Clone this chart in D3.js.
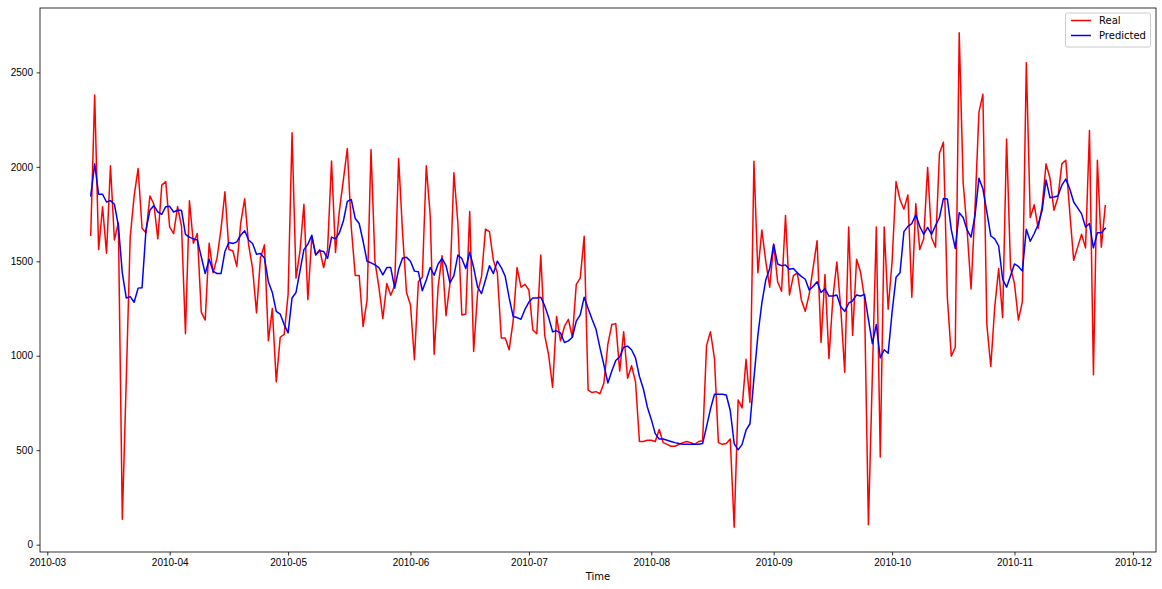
<!DOCTYPE html>
<html>
<head>
<meta charset="utf-8">
<script src="https://cdn.jsdelivr.net/npm/d3@7"></script>
<style>
  body { margin: 0; background: white; }
  svg { display: block; font-family: "DejaVu Sans", sans-serif; }
</style>
</head>
<body>
<div id="chart"></div>
<script>
// daily values, first day 2010-03-12
const startDay = "2010-03-12";

const real = [
  1638, 2381, 1562, 1789, 1543, 2006, 1613, 1704, 134, 871,
  1628, 1846, 1991, 1675, 1651, 1846, 1802, 1619, 1903, 1922,
  1681, 1647, 1790, 1685, 1117, 1821, 1596, 1647, 1231, 1189,
  1596, 1439, 1518, 1670, 1868, 1562, 1556, 1473, 1704, 1831,
  1587, 1462, 1227, 1518, 1587, 1079, 1250, 862, 1098, 1113,
  1325, 2181, 1411, 1552, 1802, 1297, 1628, 1534, 1562, 1467,
  1562, 2031, 1547, 1770, 1931, 2097, 1680, 1425, 1425, 1155,
  1295, 2092, 1500, 1363, 1197, 1382, 1320, 1373, 2044, 1650,
  1335, 1269, 979, 1392, 1415, 2006, 1742, 1008, 1363, 1530,
  1212, 1382, 1969, 1704, 1216, 1221, 1764, 1023, 1335, 1420,
  1670, 1657, 1505, 1439, 1094, 1094, 1032, 1183, 1467, 1363,
  1378, 1348, 1136, 1117, 1533, 1108, 1004, 833, 1208, 1079,
  1155, 1193, 1098, 1378, 1411, 1632, 818, 805, 810, 799,
  856, 1061, 1165, 1170, 919, 1127, 881, 947, 862, 546,
  546, 553, 553, 546, 610, 540, 531, 521, 521, 531,
  540, 546, 540, 531, 546, 550, 1055, 1127, 985, 540,
  531, 535, 559, 92, 766, 724, 981, 753, 2029, 1439,
  1666, 1500, 1363, 1590, 1392, 1341, 1742, 1322, 1424, 1439,
  1297, 1235, 1325, 1467, 1609, 1070, 1430, 985, 1306, 1496,
  1250, 913, 1681, 1108, 1511, 1443, 1306, 105, 900, 1681,
  464, 1681, 1246, 1500, 1922, 1827, 1776, 1851, 1310, 1804,
  1562, 1619, 1997, 1625, 1575, 2073, 2130, 1306, 998, 1045,
  2710, 1916, 1666, 1354, 1779, 2290, 2384, 1165, 943, 1259,
  1462, 1202, 2148, 1467, 1382, 1189, 1287, 2551, 1732, 1799,
  1675, 1790, 2016, 1940, 1770, 1836, 2016, 2035, 1761, 1505,
  1575, 1643, 1571, 2192, 899, 2035, 1575, 1795
];

const predicted = [
  1846, 2016, 1855, 1855, 1814, 1821, 1802, 1689, 1439, 1306,
  1313, 1283, 1358, 1360, 1666, 1770, 1795, 1761, 1749, 1789,
  1791, 1761, 1770, 1770, 1643, 1628, 1619, 1613, 1524, 1435,
  1511, 1448, 1435, 1435, 1552, 1600, 1594, 1603, 1638, 1662,
  1613, 1594, 1537, 1541, 1518, 1392, 1335, 1235, 1221, 1165,
  1121, 1306, 1335, 1448, 1562, 1590, 1638, 1534, 1556, 1552,
  1515, 1628, 1619, 1651, 1713, 1817, 1827, 1727, 1700, 1606,
  1500, 1492, 1481, 1467, 1428, 1467, 1467, 1358, 1458, 1518,
  1522, 1500, 1448, 1445, 1344, 1401, 1467, 1426, 1486, 1515,
  1477, 1386, 1424, 1533, 1515, 1462, 1548, 1467, 1363, 1329,
  1401, 1477, 1435, 1501, 1467, 1420, 1306, 1208, 1202, 1193,
  1246, 1284, 1306, 1306, 1310, 1265, 1202, 1127, 1132, 1121,
  1070, 1079, 1098, 1183, 1216, 1310, 1250, 1193, 1140, 1042,
  951, 856, 919, 975, 994, 1045, 1051, 1032, 989, 890,
  824, 729, 663, 588, 559, 559, 553, 546, 540, 535,
  531, 531, 531, 531, 531, 535, 625, 719, 796, 796,
  796, 792, 710, 535, 502, 531, 606, 640, 880, 1108,
  1278, 1401, 1462, 1590, 1486, 1477, 1481, 1458, 1462, 1439,
  1420, 1405, 1348, 1367, 1392, 1335, 1354, 1316, 1316, 1322,
  1259, 1235, 1278, 1291, 1322, 1316, 1325, 1193, 1064, 1165,
  989, 1032, 1013, 1231, 1415, 1439, 1657, 1685, 1700, 1746,
  1685, 1643, 1679, 1643, 1689, 1732, 1832, 1830, 1666, 1568,
  1757, 1732, 1666, 1628, 1742, 1940, 1884, 1761, 1634, 1619,
  1581, 1405, 1363, 1424, 1486, 1473, 1448, 1670, 1606, 1647,
  1694, 1770, 1931, 1836, 1840, 1846, 1903, 1935, 1884, 1814,
  1783, 1751, 1681, 1700, 1571, 1651, 1651, 1675
];

const yTicks = [0, 500, 1000, 1500, 2000, 2500];
const seriesNames = ["Real", "Predicted"];
const seriesColors = ["red", "blue"];

function drawChart() {
  const width = 1162, height = 589;
  const margin = {top: 8, right: 6, bottom: 37, left: 40};

  const t0 = d3.utcParse("%Y-%m-%d")(startDay);
  const dates = real.map((d, i) => d3.utcDay.offset(t0, i));

  // matplotlib style 5% padding around the data
  const xExt = d3.extent(dates).map(d => +d);
  const xPad = (xExt[1] - xExt[0]) * 0.05;
  const yExt = d3.extent(real.concat(predicted));
  const yPad = (yExt[1] - yExt[0]) * 0.05;

  const x = d3.scaleUtc()
    .domain([xExt[0] - xPad, xExt[1] + xPad])
    .range([margin.left, width - margin.right]);

  const y = d3.scaleLinear()
    .domain([yExt[0] - yPad, yExt[1] + yPad])
    .range([height - margin.bottom, margin.top]);

  const svg = d3.select("#chart").append("svg")
    .attr("width", width).attr("height", height);

  const xAxis = g => g
    .attr("transform", `translate(0,${height - margin.bottom})`)
    .call(d3.axisBottom(x).ticks(d3.utcMonth.every(1)).tickFormat(d3.utcFormat("%Y-%m"))
      .tickSizeOuter(0).tickSize(3.5).tickPadding(3.5))
    .call(g => g.select(".domain").remove())
    .call(g => g.selectAll("line").attr("stroke-width", 0.8))
    .call(g => g.selectAll("text").style("font-size", "10px").attr("fill", "black"));

  const yAxis = g => g
    .attr("transform", `translate(${margin.left},0)`)
    .call(d3.axisLeft(y).tickValues(yTicks).tickFormat(d3.format("d"))
      .tickSizeOuter(0).tickSize(3.5).tickPadding(3.5))
    .call(g => g.select(".domain").remove())
    .call(g => g.selectAll("line").attr("stroke-width", 0.8))
    .call(g => g.selectAll("text").style("font-size", "10px").attr("fill", "black"));

  svg.append("g").call(xAxis);
  svg.append("g").call(yAxis);

  const line = d3.line()
    .x((d, i) => x(dates[i]))
    .y(d => y(d));

  [real, predicted].forEach((s, k) => {
    svg.append("path")
      .datum(s)
      .attr("fill", "none")
      .attr("stroke", seriesColors[k])
      .attr("stroke-width", 1.5)
      .attr("stroke-linejoin", "round")
      .attr("stroke-linecap", "square")
      .attr("d", line);
  });

  // spines
  svg.append("rect")
    .attr("x", margin.left).attr("y", margin.top)
    .attr("width", width - margin.left - margin.right)
    .attr("height", height - margin.top - margin.bottom)
    .attr("fill", "none")
    .attr("stroke", "black")
    .attr("stroke-width", 0.8);

  svg.append("text")
    .attr("x", (margin.left + width - margin.right) / 2)
    .attr("y", 580)
    .attr("text-anchor", "middle")
    .style("font-size", "10px")
    .text("Time");

  // legend, upper right
  const legend = svg.append("g")
    .attr("transform", `translate(${width - margin.right - 91},${margin.top + 4.5})`);

  legend.append("rect")
    .attr("x", 0.5).attr("y", 0.5)
    .attr("width", 85).attr("height", 34)
    .attr("rx", 2)
    .attr("fill", "white").attr("fill-opacity", 0.8)
    .attr("stroke", "#cccccc");

  seriesNames.forEach((name, k) => {
    const ly = 8 + k * 15;
    legend.append("line")
      .attr("x1", 6).attr("x2", 26)
      .attr("y1", ly).attr("y2", ly)
      .attr("stroke", seriesColors[k])
      .attr("stroke-width", 1.5);
    legend.append("text")
      .attr("x", 34).attr("y", ly + 3.5)
      .style("font-size", "10px")
      .text(name);
  });
}

drawChart();
</script>
</body>
</html>
